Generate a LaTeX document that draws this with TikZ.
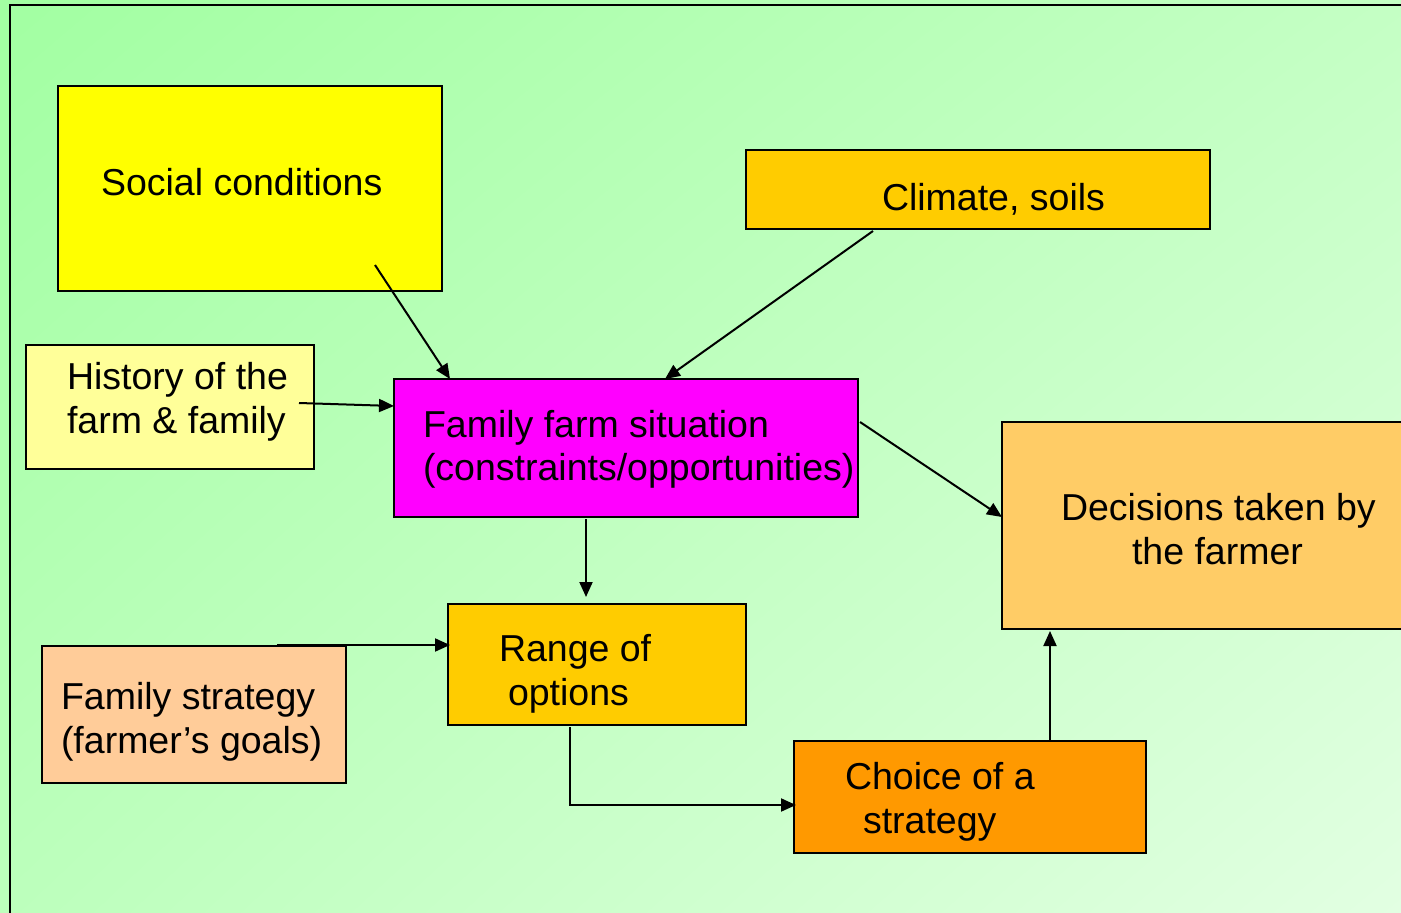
\documentclass[tikz,border=0pt]{standalone}
\usepackage{fontspec}
\setmainfont{Liberation Sans}
\usetikzlibrary{arrows.meta,calc,shadings}

\definecolor{socialYellow}{HTML}{FFFF00}
\definecolor{climateGold}{HTML}{FFCC00}
\definecolor{historyPale}{HTML}{FFFF99}
\definecolor{farmMagenta}{HTML}{FF00FF}
\definecolor{decisionTan}{HTML}{FFCC66}
\definecolor{strategyPeach}{HTML}{FFCC99}
\definecolor{choiceOrange}{HTML}{FF9900}
\definecolor{bgUL}{HTML}{A2FFA2}
\definecolor{bgUR}{HTML}{C4FFC4}
\definecolor{bgLL}{HTML}{BCFFBC}
\definecolor{bgLR}{HTML}{E2FFE2}

\tikzset{
  box/.style={draw=black, line width=2pt, anchor=north west, inner sep=0pt},
  lbl/.style={anchor=base west, inner sep=0pt, outer sep=0pt,
              font=\fontsize{37.5}{44}\selectfont},
  arr/.style={draw=black, line width=2pt,
              -{Triangle[length=15pt,width=13pt]}},
}

\begin{document}
\begin{tikzpicture}[x=1pt,y=-1pt]
  % canvas and backdrop
  \clip (0,0) rectangle (1401,913);
  \shade[upper left=bgUL, upper right=bgUR, lower left=bgLL, lower right=bgLR]
    (0,0) rectangle (1401,913);
  \draw[line width=2.5pt] (10,5) rectangle (1430,940);

  % boxes
  \node[box, fill=socialYellow,  minimum width=384pt, minimum height=205pt] (soc)    at (57,85)   {};
  \node[box, fill=climateGold,   minimum width=464pt, minimum height=79pt]  (clim)   at (745,149) {};
  \node[box, fill=historyPale,   minimum width=288pt, minimum height=124pt] (hist)   at (25,344)  {};
  \node[box, fill=farmMagenta,   minimum width=464pt, minimum height=138pt] (farm)   at (393,378) {};
  \node[box, fill=decisionTan,   minimum width=430pt, minimum height=207pt] (dec)    at (1001,421){};
  \node[box, fill=climateGold,   minimum width=298pt, minimum height=121pt] (range)  at (447,603) {};
  \node[box, fill=strategyPeach, minimum width=304pt, minimum height=137pt] (fstrat) at (41,645)  {};
  \node[box, fill=choiceOrange,  minimum width=352pt, minimum height=112pt] (choice) at (793,740) {};

  % texts
  \node[lbl] (socT)     at (101,195)  {Social conditions};
  \node[lbl] (climT)    at (882,210)  {Climate, soils};
  \node[lbl] (histTa)   at (67,389)   {History of the};
  \node[lbl] (histTb)   at (67,433)   {farm \& family};
  \node[lbl] (farmTa)   at (423,437)  {Family farm situation};
  \node[lbl] (farmTb)   at (423,480)  {(constraints/opportunities)};
  \node[lbl] (decTa)    at (1061,520) {Decisions taken by};
  \node[lbl] (decTb)    at (1132,564) {the farmer};
  \node[lbl] (rangeTa)  at (499,661)  {Range of};
  \node[lbl] (rangeTb)  at (508,705)  {options};
  \node[lbl] (fstratTa) at (61,709)   {Family strategy};
  \node[lbl] (fstratTb) at (61,753)   {(farmer’s goals)};
  \node[lbl] (choiceTa) at (845,789)  {Choice of a};
  \node[lbl] (choiceTb) at (863,833)  {strategy};

  % connector start points lying inside boxes
  \coordinate (socOut)  at ($(soc.north west)+(318,180)$);
  \coordinate (histOut) at ($(hist.north west)+(274,59)$);

  % connectors
  \draw[arr] (socOut) -- ($(farm.north west)+(57,1)$);
  \draw[arr] ($(clim.south west)+(128,1)$) -- ($(farm.north west)+(272,1)$);
  \draw[arr] (histOut) -- ($(farm.north west)+(1,28)$);
  \draw[arr] ($(farm.north east)+(1,44)$) -- ($(dec.north west)+(1,96)$);
  \draw[arr] ($(farm.south west)+(193,1)$) -- ($(range.north west)+(139,-6)$);
  \draw[arr] ($(fstrat.north west)+(236,0)$) -- ($(range.north west)+(3,42)$);
  \draw[arr] ($(range.south west)+(123,1)$) |- ($(choice.north west)+(3,65)$);
  \draw[arr] ($(choice.north west)+(257,1)$) -- ($(dec.south west)+(49,1)$);
\end{tikzpicture}
\end{document}
